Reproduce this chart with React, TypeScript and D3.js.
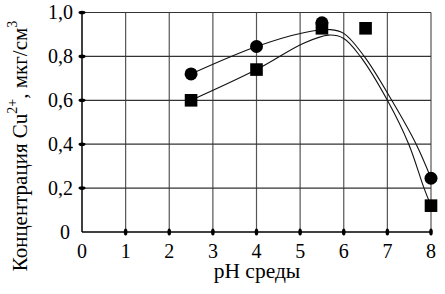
import React from "react";
import * as d3 from "d3";

// tick values
const xTicks = [0, 1, 2, 3, 4, 5, 6, 7, 8];
const yTicks = [0, 0.2, 0.4, 0.6, 0.8, 1.0];

// measured points
const circlePH = [2.5, 4, 5.5, 8];
const circleConc = [0.72, 0.845, 0.953, 0.245];
const squarePH = [2.5, 4, 5.5, 6.5, 8];
const squareConc = [0.6, 0.74, 0.928, 0.928, 0.12];

// fitted curves
const upperCurvePH = [2.5, 4, 5.08, 5.69, 6, 6.47, 7.1, 7.66, 8];
const upperCurveConc = [0.72, 0.845, 0.908, 0.922, 0.905, 0.8, 0.6, 0.4, 0.245];
const lowerCurvePH = [2.5, 4, 5.08, 5.65, 6, 6.38, 7.0, 7.49, 7.84, 8];
const lowerCurveConc = [0.6, 0.74, 0.86, 0.897, 0.882, 0.8, 0.6, 0.4, 0.2, 0.12];

const FONT = "Liberation Serif";

const x = d3.scaleLinear().domain([0, 8]).range([82, 431]);
const y = d3.scaleLinear().domain([0, 1]).range([232, 12.5]);

const line = d3.line<[number, number]>()
    .x(d => x(d[0]))
    .y(d => y(d[1]))
    .curve(d3.curveCatmullRom.alpha(0.5));

const upper = upperCurvePH.map((p, i) => [p, upperCurveConc[i]] as [number, number]);
const lower = lowerCurvePH.map((p, i) => [p, lowerCurveConc[i]] as [number, number]);

const yLabel = (d: number) => (d === 0 ? "0" : d3.format(".1f")(d).replace(".", ","));

const App = () => (
    <svg
        width={445}
        height={294}
        style={{ position: "absolute", left: 0, top: 0, background: "#fff" }}
    >
        {/* grid */}
        {xTicks.slice(1).map(d => (
            <line key={"vx" + d} x1={x(d)} x2={x(d)} y1={y(0)} y2={y(1)} stroke="#555" strokeWidth={1.2} />
        ))}
        {yTicks.slice(1).map(d => (
            <line key={"hy" + d} x1={x(0)} x2={x(8)} y1={y(d)} y2={y(d)} stroke="#333" strokeWidth={1.2} />
        ))}

        {/* axes */}
        <line x1={x(0)} x2={x(0)} y1={y(0)} y2={y(1)} stroke="#000" strokeWidth={1.5} />
        <line x1={x(0)} x2={x(8)} y1={y(0)} y2={y(0)} stroke="#000" strokeWidth={1.5} />

        {/* tick blobs */}
        {xTicks.slice(1).map(d => (
            <ellipse key={"tx" + d} cx={x(d)} cy={y(0)} rx={1.8} ry={3.5} fill="#000" />
        ))}
        {yTicks.slice(1).map(d => (
            <ellipse key={"ty" + d} cx={x(0)} cy={y(d)} rx={3.5} ry={1.8} fill="#000" />
        ))}

        {/* tick labels */}
        {xTicks.map(d => (
            <text key={"lx" + d} x={x(d)} y={257.5} textAnchor="middle" fontFamily={FONT} fontSize={20}>
                {String(d)}
            </text>
        ))}
        {yTicks.map(d => (
            <text key={"ly" + d} x={d === 0 ? 70 : 73} y={y(d) + 6.5} textAnchor="end" fontFamily={FONT} fontSize={20}>
                {yLabel(d)}
            </text>
        ))}

        {/* curves */}
        {[upper, lower].map((pts, i) => (
            <path key={"c" + i} d={line(pts) || ""} fill="none" stroke="#111" strokeWidth={1.1} />
        ))}

        {/* markers */}
        {circlePH.map((d, i) => (
            <circle key={"o" + i} cx={x(d)} cy={y(circleConc[i])} r={6.5} fill="#000" />
        ))}
        {squarePH.map((d, i) => (
            <rect key={"s" + i} x={x(d) - 6.3} y={y(squareConc[i]) - 6.3} width={12.6} height={12.6} fill="#000" />
        ))}

        {/* axis titles */}
        <text x={257} y={277.5} textAnchor="middle" fontFamily={FONT} fontSize={21.5}>
            pH среды
        </text>
        <text transform="translate(27,146) rotate(-90)" textAnchor="middle" fontFamily={FONT} fontSize={21}>
            <tspan>Концентрация Cu</tspan>
            <tspan dy={-10} fontSize={14}>2+</tspan>
            <tspan dy={10}>, мкг/см</tspan>
            <tspan dy={-10} fontSize={14}>3</tspan>
        </text>
    </svg>
);

export default App;
